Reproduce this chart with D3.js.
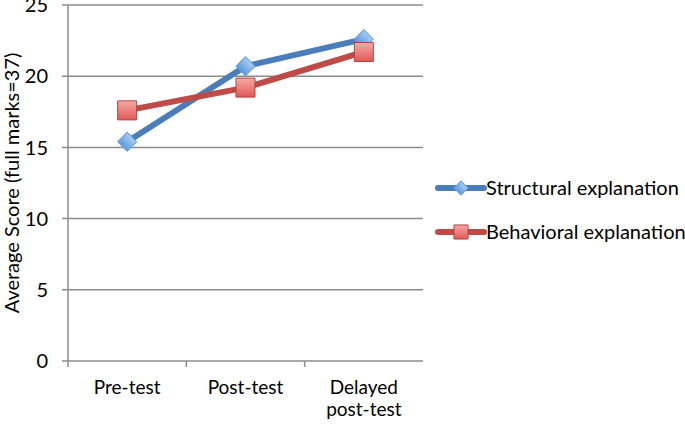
<!DOCTYPE html>
<html>
<head>
<meta charset="utf-8">
<script src="https://cdn.jsdelivr.net/npm/d3@7"></script>
<style>
  body { margin: 0; background: #fff; }
  text { font-family: Lato, "Open Sans", sans-serif; fill: #000; }
</style>
</head>
<body>
<div id="chart"></div>
<script>
// data
var categories = ["Pre-test", "Post-test", "Delayed\npost-test"];
var structural = [15.4, 20.7, 22.6];
var behavioral = [17.6, 19.2, 21.7];
var seriesNames = ["Structural explanation", "Behavioral explanation"];
var yTicks = [0, 5, 10, 15, 20, 25];

var width = 685, height = 425;
var margin = {top: 5, right: 262, bottom: 64, left: 68};
var w = width - margin.left - margin.right,
    h = height - margin.top - margin.bottom;

var svg = d3.select("#chart")
  .append("svg")
    .attr("width", width)
    .attr("height", height);

var g = svg.append("g")
    .attr("transform", "translate(" + margin.left + "," + margin.top + ")");

var x = d3.scaleBand()
  .domain(categories)
  .range([0, w]);

var y = d3.scaleLinear()
  .domain([0, 25])
  .range([h, 0]);

// gridlines
g.selectAll(".grid")
  .data(yTicks.slice(1))
  .enter()
  .append("line")
    .attr("x1", -6)
    .attr("x2", w)
    .attr("y1", function(d) { return y(d); })
    .attr("y2", function(d) { return y(d); })
    .attr("stroke", "#8c8c8c")
    .attr("stroke-width", 1.5);

// y axis
g.append("line")
  .attr("x1", 0).attr("x2", 0)
  .attr("y1", 0).attr("y2", h)
  .attr("stroke", "#8c8c8c")
  .attr("stroke-width", 1.5);

g.selectAll(".ylab")
  .data(yTicks)
  .enter()
  .append("text")
    .attr("x", -20)
    .attr("y", function(d) { return y(d); })
    .attr("dy", "0.36em")
    .attr("text-anchor", "end")
    .style("font-size", "20px")
    .text(function(d) { return d; });

// x axis
g.append("line")
  .attr("x1", -6).attr("x2", w)
  .attr("y1", h).attr("y2", h)
  .attr("stroke", "#8c8c8c")
  .attr("stroke-width", 1.5);

g.selectAll(".xtick")
  .data(categories)
  .enter()
  .append("line")
    .attr("x1", function(d) { return x(d); })
    .attr("x2", function(d) { return x(d); })
    .attr("y1", h)
    .attr("y2", h + 6)
    .attr("stroke", "#8c8c8c")
    .attr("stroke-width", 1.5);

g.selectAll(".xlab")
  .data(categories)
  .enter()
  .append("text")
    .attr("text-anchor", "middle")
    .attr("x", function(d) { return x(d) + x.bandwidth() / 2; })
    .attr("y", h + 33)
    .style("font-size", "19px")
    .each(function(d) {
      var lines = d.split("\n");
      var t = d3.select(this);
      lines.forEach(function(l, i) {
        t.append("tspan")
          .attr("x", x(d) + x.bandwidth() / 2)
          .attr("dy", i == 0 ? 0 : "1.15em")
          .text(l);
      });
    });

// y axis title
svg.append("text")
  .attr("transform", "translate(19," + (margin.top + h / 2) + ") rotate(-90)")
  .attr("text-anchor", "middle")
  .style("font-size", "20px")
  .text("Average Score (full marks=37)");

// gradients for markers
var defs = svg.append("defs");
var gb = defs.append("linearGradient").attr("id", "gblue")
  .attr("x1", 0).attr("y1", 0).attr("x2", 0).attr("y2", 1);
gb.append("stop").attr("offset", "0%").attr("stop-color", "#a9cdf2");
gb.append("stop").attr("offset", "100%").attr("stop-color", "#5d9ae0");
var gr = defs.append("linearGradient").attr("id", "gred")
  .attr("x1", 0).attr("y1", 0).attr("x2", 0).attr("y2", 1);
gr.append("stop").attr("offset", "0%").attr("stop-color", "#f5aaa8");
gr.append("stop").attr("offset", "100%").attr("stop-color", "#e05a57");

var series = [
  {name: seriesNames[0], values: structural, color: "#4a7ebb", fill: "url(#gblue)", stroke: "#6a9fd8", rot: 45, size: 180},
  {name: seriesNames[1], values: behavioral, color: "#be4b48", fill: "url(#gred)", stroke: "#b7403d", rot: 0, size: 360}
];

var line = d3.line()
  .x(function(d, i) { return x(categories[i]) + x.bandwidth() / 2; })
  .y(function(d) { return y(d); });

series.forEach(function(s) {
  g.append("path")
    .datum(s.values)
    .attr("fill", "none")
    .attr("stroke", s.color)
    .attr("stroke-width", 6)
    .attr("stroke-linejoin", "round")
    .attr("d", line);
});

series.forEach(function(s) {
  g.selectAll(null)
    .data(s.values)
    .enter()
    .append("path")
      .attr("transform", function(d, i) {
        return "translate(" + (x(categories[i]) + x.bandwidth() / 2) + "," + y(d) + ") rotate(" + s.rot + ")";
      })
      .attr("d", d3.symbol().type(d3.symbolSquare).size(s.size))
      .attr("fill", s.fill)
      .attr("stroke", s.stroke)
      .attr("stroke-width", 1);
});

// legend
var legend = svg.append("g")
  .attr("transform", "translate(438,188)");

series.forEach(function(s, i) {
  var lg = legend.append("g").attr("transform", "translate(0," + (i * 44) + ")");
  lg.append("line")
    .attr("x1", 0).attr("x2", 46)
    .attr("stroke", s.color)
    .attr("stroke-width", 6)
    .attr("stroke-linecap", "round");
  lg.append("path")
    .attr("transform", "translate(23,0) rotate(" + s.rot + ")")
    .attr("d", d3.symbol().type(d3.symbolSquare).size(s.size * 0.55))
    .attr("fill", s.fill)
    .attr("stroke", s.stroke)
    .attr("stroke-width", 1);
  lg.append("text")
    .attr("x", 48)
    .attr("dy", "0.36em")
    .style("font-size", "20px")
    .text(s.name);
});
</script>
</body>
</html>
